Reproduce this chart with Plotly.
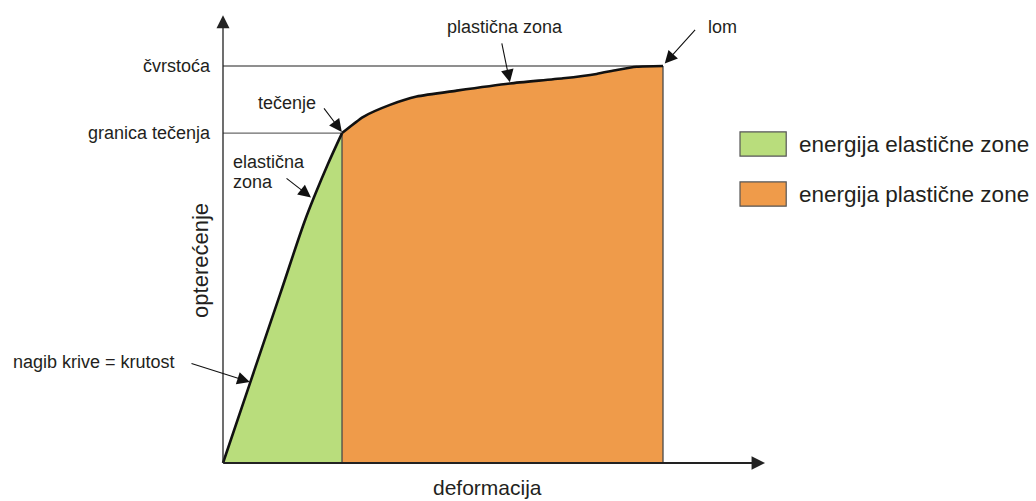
import plotly.graph_objects as go

# --- data (deformation / load, arbitrary units) ---
deformation_elastic = [0, 6.1, 13.0, 18.5, 21.0, 23.8, 27.05]
load_elastic = [0, 20.0, 42.6, 60.7, 67.8, 75.2, 83.1]
deformation_plastic = [27.05, 31.9, 37.95, 44.0, 53.1, 65.2, 77.3, 84.9, 89.5, 94.0, 100]
load_plastic = [83.1, 87.2, 90.2, 92.3, 93.8, 95.6, 96.9, 98.0, 99.0, 99.8, 100]
yield_label = "granica tečenja"
strength_label = "čvrstoća"
legend_labels = ["energija elastične zone", "energija plastične zone"]

GREEN = "#B9DD7C"
ORANGE = "#EF9B4A"
FONT = "Liberation Sans, Arial, sans-serif"
TXT = "#231F20"

yx, yy = deformation_elastic[-1], load_elastic[-1]
ux, uy = deformation_plastic[-1], load_plastic[-1]

fig = go.Figure()
# filled areas
fig.add_trace(go.Scatter(x=deformation_elastic, y=load_elastic, mode="lines",
                         line=dict(width=0, shape="spline", smoothing=1.0, color=GREEN),
                         fill="tozeroy", fillcolor=GREEN, hoverinfo="skip", showlegend=False))
fig.add_trace(go.Scatter(x=deformation_plastic, y=load_plastic, mode="lines",
                         line=dict(width=0, shape="spline", smoothing=0.6, color=ORANGE),
                         fill="tozeroy", fillcolor=ORANGE, hoverinfo="skip", showlegend=False))
# guide lines
fig.add_trace(go.Scatter(x=[0, ux], y=[uy, uy], mode="lines",
                         line=dict(width=1.4, color="#6a6a6a"), showlegend=False, hoverinfo="skip"))
fig.add_trace(go.Scatter(x=[0, yx], y=[yy, yy], mode="lines",
                         line=dict(width=1.4, color="#6a6a6a"), showlegend=False, hoverinfo="skip"))
# vertical edges
fig.add_trace(go.Scatter(x=[yx, yx], y=[0, yy], mode="lines",
                         line=dict(width=1.3, color="#4a4a4a"), showlegend=False, hoverinfo="skip"))
fig.add_trace(go.Scatter(x=[ux, ux], y=[0, uy], mode="lines",
                         line=dict(width=1.3, color="#4a4a4a"), showlegend=False, hoverinfo="skip"))
# curve
fig.add_trace(go.Scatter(x=deformation_elastic, y=load_elastic, mode="lines",
                         line=dict(width=2.6, shape="spline", smoothing=1.0, color="#111111"),
                         showlegend=False, hoverinfo="skip"))
fig.add_trace(go.Scatter(x=deformation_plastic, y=load_plastic, mode="lines",
                         line=dict(width=2.6, shape="spline", smoothing=0.6, color="#111111"),
                         showlegend=False, hoverinfo="skip"))

ann = []

def arrow(x, y, ax, ay, w=1.1, size=2.3, color="#111111"):
    ann.append(dict(x=x, y=y, ax=ax, ay=ay, xref="x", yref="y", axref="x", ayref="y",
                    text="", showarrow=True, arrowhead=2, arrowsize=size, arrowwidth=w,
                    arrowcolor=color, standoff=0))

def label(x, y, text, size=18, xanchor="center", angle=0):
    ann.append(dict(x=x, y=y, xref="x", yref="y", text=text, showarrow=False,
                    xanchor=xanchor, yanchor="middle", textangle=angle,
                    font=dict(family=FONT, size=size, color=TXT)))

# axes with arrows
arrow(123.2, 0, -0.3, 0, w=1.8, size=1.5, color="#222222")
arrow(0, 112.8, 0, -0.3, w=1.3, size=2.0, color="#222222")

# annotation arrows
arrow(27.0, 83.4, 22.7, 89.7)
arrow(20.0, 66.9, 14.1, 72.0)
arrow(6.1, 20.4, -7.5, 25.2)
arrow(65.2, 95.9, 63.3, 106.1)
arrow(100.4, 100.6, 107.6, 109.5)

label(-2.27, uy, strength_label, xanchor="right")
label(-2.27, yy, yield_label, xanchor="right")
label(14.5, 90.7, "tečenje")
label(1.9, 75.9, "elastična", xanchor="left")
label(1.9, 70.9, "zona", xanchor="left")
label(-10.5, 25.4, "nagib krive = krutost", xanchor="right")
label(64.1, 109.8, "plastična zona")
label(109.7, 109.8, "lom", xanchor="left")
label(-5.0, 50.9, "opterećenje", size=22, angle=-90)
label(60.2, -6.2, "deformacija", size=21)

# legend
shapes = []
for (y0, y1), col, txt in zip([(77.3, 83.4), (64.7, 70.8)], [GREEN, ORANGE], legend_labels):
    shapes.append(dict(type="rect", xref="x", yref="y", x0=117.5, x1=128.0, y0=y0, y1=y1,
                       fillcolor=col, line=dict(color="#555555", width=1.2)))
    label(130.4, (y0 + y1) / 2, txt, size=22.5, xanchor="left")

fig.update_layout(
    width=1036, height=501,
    margin=dict(l=0, r=0, t=0, b=0),
    paper_bgcolor="white", plot_bgcolor="white",
    xaxis=dict(range=[-50.68, 184.77], visible=False, fixedrange=True),
    yaxis=dict(range=[-9.57, 116.62], visible=False, fixedrange=True),
    annotations=ann, shapes=shapes, showlegend=False,
)
fig.write_html("out.html", config={"displayModeBar": False},
               post_script="document.body.style.margin='0';document.body.style.overflow='hidden';")
